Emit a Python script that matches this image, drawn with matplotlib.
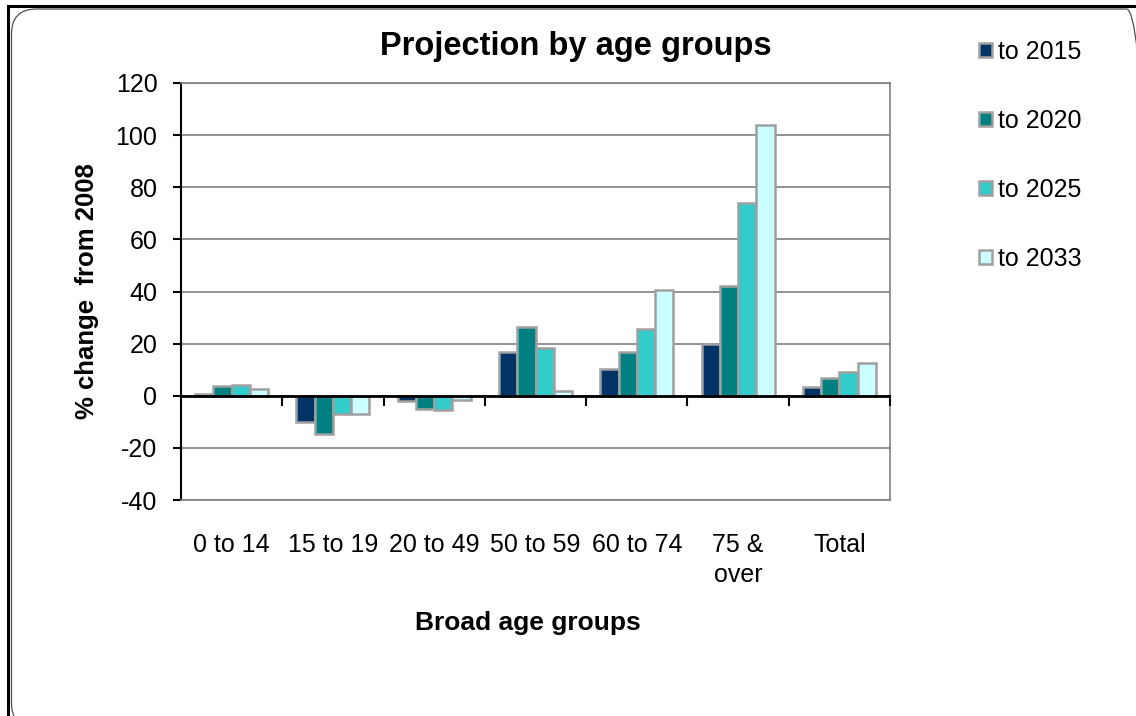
import matplotlib.pyplot as plt
import numpy as np
from matplotlib.patches import FancyBboxPatch
from matplotlib.lines import Line2D

plt.rcParams['font.family'] = ['Liberation Sans', 'DejaVu Sans']
plt.rcParams['axes.unicode_minus'] = False

groups = ["0 to 14", "15 to 19", "20 to 49", "50 to 59", "60 to 74", "75 &\nover", "Total"]
series = ["to 2015", "to 2020", "to 2025", "to 2033"]
to_2015 = [0.5, -10.2, -2.2, 16.9, 10.2, 19.8, 3.5]
to_2020 = [3.6, -14.5, -5.1, 26.3, 16.9, 42.1, 7.0]
to_2025 = [4.2, -6.9, -5.4, 18.3, 25.7, 73.8, 9.3]
to_2033 = [2.7, -6.9, -1.5, 1.8, 40.6, 103.8, 12.5]
colors = ["#003366", "#008080", "#33CCCC", "#CCFFFF"]

W, H = 1136, 716
fig = plt.figure(figsize=(W / 100, H / 100), dpi=100)
ax = fig.add_axes([181 / W, 1 - 500 / H, (890 - 181) / W, (500 - 83) / H])

# outer border: heavy top/left edge plus a rounded inner outline
fig.add_artist(Line2D([8 / W, 1], [1 - 6 / H, 1 - 6 / H], color="black", linewidth=2.2,
                      transform=fig.transFigure))
fig.add_artist(Line2D([8 / W, 8 / W], [0, 1 - 6 / H], color="black", linewidth=2.2,
                      transform=fig.transFigure))
frame = FancyBboxPatch((0.115, -0.12), 11.40, 7.19,
                       boxstyle="round,pad=0,rounding_size=0.25",
                       transform=fig.dpi_scale_trans, fill=False,
                       edgecolor="#505050", linewidth=0.9)
fig.patches.append(frame)

x = np.arange(len(groups))
width = 0.18
data = [to_2015, to_2020, to_2025, to_2033]
for i, (vals, name) in enumerate(zip(data, series)):
    ax.bar(x + (i - 1.5) * width, vals, width, color=colors[i], edgecolor="#A0A0A0",
           linewidth=1.8, label=name, zorder=3)

ax.set_xlim(-0.5, len(groups) - 0.5)
ax.set_ylim(-40, 120)
ax.set_yticks(np.arange(-40, 121, 20))
ax.yaxis.grid(True, color="#808080", linewidth=1.2, zorder=0)
ax.set_axisbelow(True)

# category axis sits at zero with its own tick marks
ax.axhline(0, color="black", linewidth=2, zorder=4)
for b in np.arange(-0.5, len(groups), 1.0):
    ax.plot([b, b], [0, -3.5], color="black", linewidth=1.5, zorder=4, clip_on=False)

ax.set_xticks(x)
ax.set_xticklabels(groups, fontsize=18, linespacing=1.3)
ax.tick_params(axis="x", length=0, pad=24)
ax.tick_params(axis="y", labelsize=18, length=6, width=1.5, direction="out", pad=11)

ax.spines["left"].set_color("black")
ax.spines["left"].set_linewidth(1.5)
for s in ["top", "right", "bottom"]:
    ax.spines[s].set_color("#808080")
    ax.spines[s].set_linewidth(1.2)

ax.set_ylabel("% change  from 2008", fontsize=18.5, fontweight="bold", labelpad=12)
ax.set_xlabel("Broad age groups", fontsize=19, fontweight="bold", labelpad=17)
ax.xaxis.label.set_x(0.489)
fig.text(576 / W, 1 - 46 / H, "Projection by age groups", fontsize=23.5,
         fontweight="bold", ha="center", va="center")

fig.legend(loc="upper left", bbox_to_anchor=(979 / W, 1 - 40 / H),
           frameon=False, fontsize=18, handlelength=0.5, handleheight=0.5,
           handletextpad=0.25, labelspacing=1.8, borderpad=0, borderaxespad=0)

fig.savefig("out.png", dpi=100)
